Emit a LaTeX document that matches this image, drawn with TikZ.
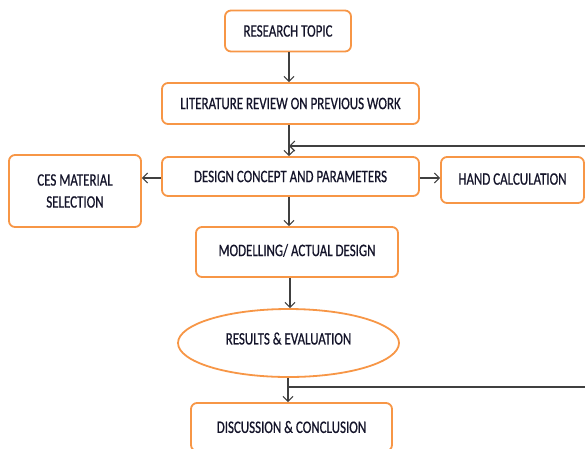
\documentclass[tikz,border=0pt]{standalone}
\usepackage{fontspec}
\setmainfont[FakeStretch=0.74,FakeBold=0.6]{Carlito}
\usetikzlibrary{positioning,shapes.geometric,arrows.meta}
\definecolor{boxorange}{HTML}{F79646}
\definecolor{linegray}{HTML}{404040}
\definecolor{txtcol}{HTML}{14142A}
\tikzset{
  stage/.style={draw=boxorange, line width=1.8pt, rounded corners=6pt, fill=white,
    text=txtcol, font=\fontsize{17.5}{20}\selectfont, align=center, inner sep=0pt},
  result/.style={stage, ellipse},
  flow/.style={draw=linegray, line width=1.1pt, -{Straight Barb[length=5pt,width=10pt]}},
  back/.style={draw=linegray, line width=1.1pt},
}
\begin{document}
\begin{tikzpicture}[x=1pt,y=-1pt]
\useasboundingbox (0,0) rectangle (585,448);
% nodes
\node[stage, minimum width=126, minimum height=41] (topic) at (288,31) {RESEARCH TOPIC};%
\node[stage, minimum width=257, minimum height=41] (review) at (290.5,103.5) {LITERATURE REVIEW ON PREVIOUS WORK};%
\node[stage, minimum width=257, minimum height=39] (concept) at (290.5,176.5) {DESIGN CONCEPT AND PARAMETERS};%
\node[stage, minimum width=132, minimum height=72] (ces) at (75,191) {CES MATERIAL\\[2pt]SELECTION};%
\node[stage, minimum width=143, minimum height=46] (hand) at (512.5,180) {\raisebox{2pt}{HAND CALCULATION}};%
\node[stage, minimum width=202, minimum height=50] (model) at (297,252) {\raisebox{4pt}{MODELLING/ ACTUAL DESIGN}};%
\node[result, minimum width=221, minimum height=68] (results) at (288.5,343) {\raisebox{9pt}{RESULTS \& EVALUATION}};%
\node[stage, minimum width=201, minimum height=48] (discuss) at (291.5,427) {DISCUSSION \& CONCLUSION};%
\coordinate (loopA) at (585,146);
\coordinate (loopB) at (585,387);

% edges
\draw[flow] (topic.south -| 289,0) -- (review.north -| 289,0);
\draw[flow] (review.south -| 289,0) -- (concept.north -| 289,0);
\draw[flow] (loopA) -- (loopA -| 289,0);
\draw[flow] (concept.west |- 0,178) -- (ces.east |- 0,178);
\draw[flow] (concept.east |- 0,178) -- (hand.west |- 0,178);
\draw[flow] (concept.south -| 289,0) -- (model.north -| 289,0);
\draw[flow] (model.south -| 290,0) -- (results.north -| 290,0);
\draw[flow] (results.south -| 288,0) -- (discuss.north -| 288,0);
\draw[back] (loopB) -- (loopB -| 288,0);
\end{tikzpicture}
\end{document}
